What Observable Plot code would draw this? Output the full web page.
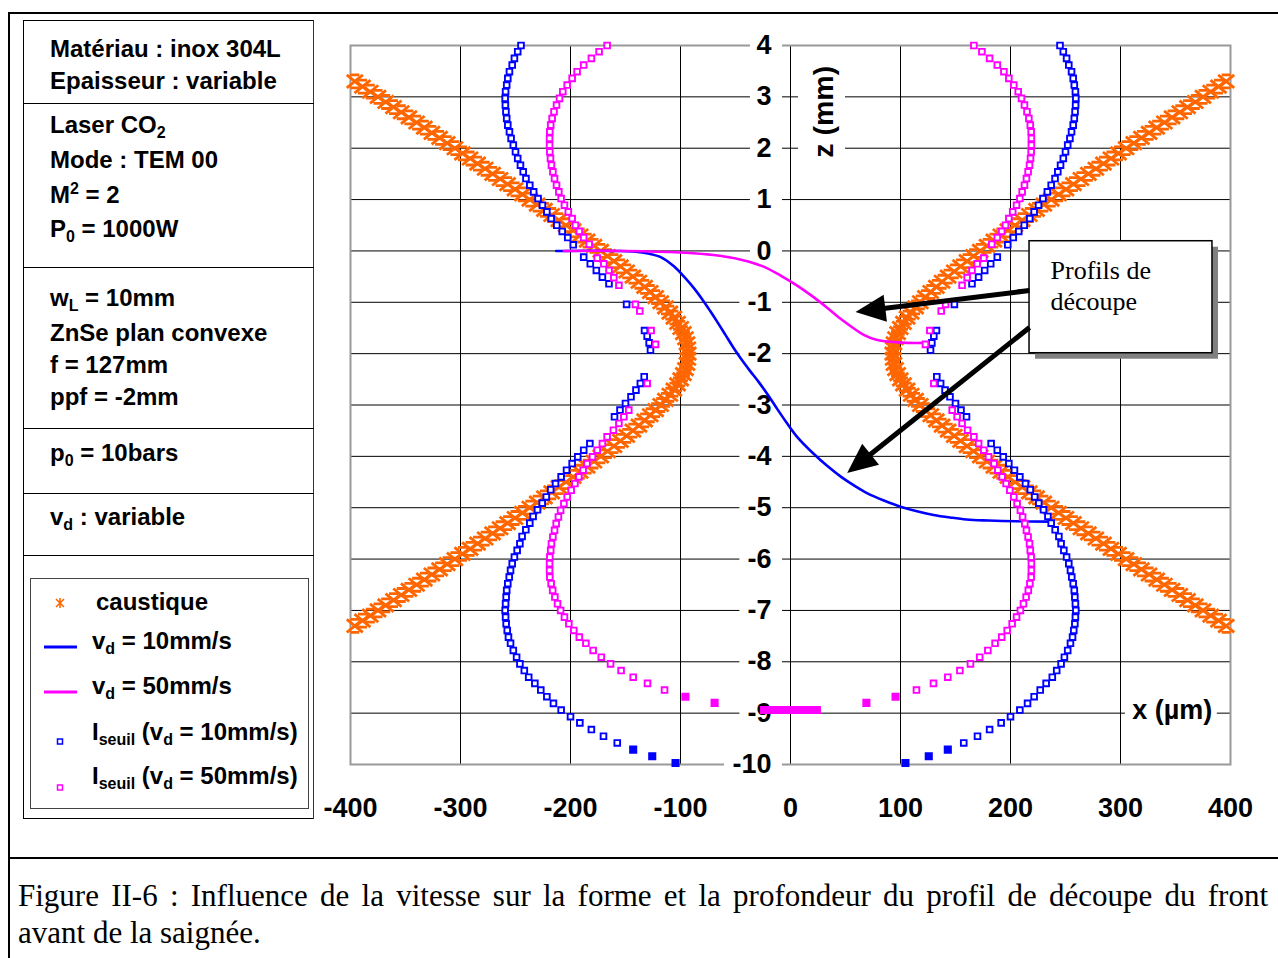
<!DOCTYPE html>
<html><head><meta charset="utf-8">
<script src="https://cdn.jsdelivr.net/npm/d3@7"></script>
<script src="https://cdn.jsdelivr.net/npm/@observablehq/plot@0.6"></script>
<style>
body{margin:0;background:#fff;}
#page{position:relative;width:1278px;height:958px;overflow:hidden;background:#fff;font-family:"Liberation Sans",Arial,sans-serif;}
#chart{position:absolute;left:0;top:0;}
.ln{position:absolute;background:#000;}
.txt{position:absolute;font-weight:bold;font-size:24px;line-height:28px;white-space:nowrap;color:#000;}
.txt sub,.txt sup{font-size:16px;line-height:0;}
.txt sub{vertical-align:-5px;}
.txt sup{vertical-align:9px;}
.cap{position:absolute;left:18px;font-family:"Liberation Serif","Times New Roman",serif;font-size:31px;line-height:37px;color:#000;white-space:nowrap;}
</style></head>
<body><div id="page"></div>
<script>
// ---------- data ----------
const xTicks = [-400,-300,-200,-100,0,100,200,300,400];
const zTicks = [4,3,2,1,0,-1,-2,-3,-4,-5,-6,-7,-8,-9,-10];

// caustic half-width (µm) vs z (mm)
const causticZ = [3.3,3.2,3.1,3.0,2.9,2.8,2.7,2.6,2.5,2.4,2.3,2.2,2.1,2.0,1.9,1.8,1.7,1.6,1.5,1.4,1.3,1.2,1.1,1.0,0.9,0.8,0.7,0.6,0.5,0.4,0.3,0.2,0.1,0.0,-0.1,-0.2,-0.3,-0.4,-0.5,-0.6,-0.7,-0.8,-0.9,-1.0,-1.1,-1.2,-1.3,-1.4,-1.5,-1.6,-1.7,-1.8,-1.9,-2.0,-2.1,-2.2,-2.3,-2.4,-2.5,-2.6,-2.7,-2.8,-2.9,-3.0,-3.1,-3.2,-3.3,-3.4,-3.5,-3.6,-3.7,-3.8,-3.9,-4.0,-4.1,-4.2,-4.3,-4.4,-4.5,-4.6,-4.7,-4.8,-4.9,-5.0,-5.1,-5.2,-5.3,-5.4,-5.5,-5.6,-5.7,-5.8,-5.9,-6.0,-6.1,-6.2,-6.3,-6.4,-6.5,-6.6,-6.7,-6.8,-6.9,-7.0,-7.1,-7.2,-7.3];
const causticW = [396.1,389.1,382.0,375.0,368.0,360.9,353.9,346.9,339.9,332.9,326.0,319.0,312.1,305.1,298.2,291.3,284.5,277.6,270.8,264.0,257.2,250.4,243.7,237.0,230.3,223.7,217.1,210.6,204.1,197.6,191.2,184.9,178.7,172.5,166.4,160.5,154.6,148.9,143.3,137.8,132.6,127.5,122.6,118.0,113.7,109.7,106.0,102.7,99.8,97.4,95.5,94.1,93.3,93.0,93.3,94.1,95.5,97.4,99.8,102.7,106.0,109.7,113.7,118.0,122.6,127.5,132.6,137.8,143.3,148.9,154.6,160.5,166.4,172.5,178.7,184.9,191.2,197.6,204.1,210.6,217.1,223.7,230.3,237.0,243.7,250.4,257.2,264.0,270.8,277.6,284.5,291.3,298.2,305.1,312.1,319.0,326.0,332.9,339.9,346.9,353.9,360.9,368.0,375.0,382.0,389.1,396.1];

// I_seuil, vd = 10 mm/s (left branch, mirrored to the right)
const seuil10Z = [4.00,3.88,3.75,3.62,3.49,3.36,3.23,3.10,2.97,2.84,2.71,2.58,2.45,2.32,2.19,2.06,1.93,1.80,1.67,1.54,1.41,1.28,1.15,1.02,0.89,0.76,0.63,0.50,0.38,0.26,0.12,-0.12,-0.25,-0.38,-0.51,-0.64,-1.04,-1.55,-1.66,-1.79,-1.93,-2.45,-2.58,-2.71,-2.84,-2.97,-3.10,-3.23,-3.75,-3.88,-4.01,-4.14,-4.27,-4.40,-4.53,-4.65,-4.79,-4.91,-5.04,-5.17,-5.30,-5.43,-5.56,-5.70,-5.83,-5.96,-6.09,-6.22,-6.35,-6.48,-6.61,-6.74,-6.87,-7.00,-7.13,-7.26,-7.39,-7.52,-7.64,-7.78,-7.91,-8.04,-8.17,-8.30,-8.42,-8.55,-8.68,-8.81,-8.94,-9.07,-9.19,-9.32,-9.45,-9.58,-9.71,-9.84,-9.97];
const seuil10X = [-245,-248,-251,-253,-255.5,-257,-258,-259,-259.4,-259.2,-258.7,-258,-257,-255.5,-254,-252,-250,-248,-245.5,-243,-240.5,-237,-233.5,-229.5,-225.5,-221.5,-217.5,-212.5,-207.5,-202.5,-197.5,-188,-182,-176.5,-171,-165,-149,-132.7,-130.3,-128.5,-127.3,-133,-136.5,-140.5,-145,-150,-155,-160,-182.4,-188,-193.4,-198.5,-203.6,-208.5,-213.6,-218,-222,-225.7,-230,-234,-237,-240.6,-244,-246,-248.5,-251,-253,-254.5,-255.7,-257,-258,-258.5,-259,-259.4,-259,-258.5,-257.5,-256.4,-254.5,-252,-249,-246,-242,-238,-232.4,-227,-221.5,-215.5,-208.5,-200,-191.5,-181,-170,-157.5,-143,-125.7,-104.5];

// I_seuil, vd = 50 mm/s
const seuil50Z = [4.00,3.88,3.75,3.62,3.49,3.36,3.23,3.10,2.97,2.84,2.71,2.58,2.45,2.32,2.19,2.06,1.93,1.80,1.67,1.54,1.41,1.28,1.15,1.02,0.89,0.76,0.63,0.50,0.38,0.26,0.13,-0.14,-0.25,-0.38,-0.52,-0.67,-1.04,-1.17,-1.55,-1.82,-2.58,-3.10,-3.23,-3.36,-3.49,-3.62,-3.75,-3.88,-4.01,-4.14,-4.27,-4.40,-4.53,-4.66,-4.79,-4.92,-5.05,-5.18,-5.31,-5.44,-5.57,-5.70,-5.83,-5.96,-6.09,-6.22,-6.35,-6.48,-6.61,-6.74,-6.87,-7.00,-7.13,-7.26,-7.39,-7.52,-7.64,-7.78,-7.91,-8.04,-8.17,-8.30,-8.42,-8.55,-8.68,-8.80,-8.94,-8.94,-8.94,-8.94,-8.94];
const seuil50X = [-166.7,-174,-181,-188,-194,-198.5,-203,-207,-210,-212.7,-215,-216.7,-218,-218.8,-219,-219,-218.8,-218.2,-217.3,-216,-214.5,-212.7,-210.6,-208.5,-205.5,-202,-198.5,-195.5,-192,-188,-183,-175.7,-169.7,-165,-160.6,-156,-141,-137,-126.7,-122.7,-130.3,-147,-151.5,-156,-161,-166.7,-171,-175.7,-180,-185,-188.5,-192.4,-196,-199.4,-203,-206,-209,-211,-213,-214.5,-216,-217.3,-218,-218.8,-219,-219,-218.8,-217.6,-216.2,-214.2,-211.8,-209,-205.5,-201.5,-197,-192,-186,-179.4,-172,-163.6,-154,-143,-130,-114.5,-95.5,-69,-24,-18,-12,-6,0];

// cutting-front profiles
const vd10X = [-213,-160,-135,-118,-106,-96,-88,-80,-73,-66,-59,-52,-45,-37,-29,-20,-12,-4,6,21,33,46,58,70,85,100,115,130,145,160,180,205,236];
const vd10Z = [0,0,-0.03,-0.12,-0.3,-0.52,-0.72,-0.95,-1.17,-1.4,-1.64,-1.88,-2.1,-2.33,-2.55,-2.82,-3.08,-3.33,-3.62,-3.95,-4.18,-4.40,-4.57,-4.72,-4.86,-4.98,-5.07,-5.14,-5.19,-5.23,-5.25,-5.265,-5.27];
const vd50X = [-206,-150,-100,-70,-45,-25,-9,5,21,33,45.5,57,67,78,91,106,127];
const vd50Z = [0,0,-0.03,-0.08,-0.17,-0.3,-0.48,-0.66,-0.9,-1.1,-1.32,-1.5,-1.64,-1.73,-1.77,-1.79,-1.79];

// annotation "Profils de découpe"
const calloutText = "Profils de\ndécoupe";
const calloutBox = {x1: 217.3, x2: 383.6, z1: -1.992, z2: 0.189};
const arrowFromX = [217.3, 217.3], arrowFromZ = [-0.77, -1.49];
const arrowTipX = [59.1, 51.5], arrowTipZ = [-1.188, -4.323];

// left info panel and legend
const infoLines = [
  ["Matériau : inox 304L", 49], ["Epaisseur : variable", 81],
  ["Laser CO<sub>2</sub>", 125], ["Mode : TEM 00", 160], ["M<sup>2</sup> = 2", 195], ["P<sub>0</sub> = 1000W", 229],
  ["w<sub>L</sub> = 10mm", 298], ["ZnSe plan convexe", 333], ["f = 127mm", 365], ["ppf = -2mm", 397],
  ["p<sub>0</sub> = 10bars", 453], ["v<sub>d</sub> : variable", 517]
];
const legendItems = [
  ["caustique", 602, 96], ["v<sub>d</sub> = 10mm/s", 641, 92], ["v<sub>d</sub> = 50mm/s", 686, 92],
  ["I<sub>seuil</sub> (v<sub>d</sub> = 10mm/s)", 732, 92], ["I<sub>seuil</sub> (v<sub>d</sub> = 50mm/s)", 776, 92]
];
const captionLines = ["Figure II-6 : Influence de la vitesse sur la forme et la profondeur du profil de découpe du front", "avant de la saignée."];

// ---------- tables ----------
const caustic = causticZ.flatMap((z, i) => [{x: -causticW[i], z}, {x: causticW[i], z}]);
const seuil10 = seuil10Z.flatMap((z, i) => [{x: seuil10X[i], z}, {x: -seuil10X[i], z}]);
const seuil50 = seuil50Z.flatMap((z, i) => [{x: seuil50X[i], z}, {x: -seuil50X[i], z}]);
const vd10 = vd10X.map((x, i) => ({x, z: vd10Z[i]}));
const vd50 = vd50X.map((x, i) => ({x, z: vd50Z[i]}));
const arrows = arrowFromX.map((x, i) => ({x1: x, z1: arrowFromZ[i], x2: arrowTipX[i], z2: arrowTipZ[i]}));

const ORANGE = "#FF6600", BLUE = "#0000FF", MAGENTA = "#FF00FF";
const W = 1278, H = 958, ML = 350, MR = 48, MT = 45, MB = 194;
const sx = d3.scaleLinear([-400, 400], [ML, W - MR]);
const sz = d3.scaleLinear([-10, 4], [H - MB, MT]);

// Excel-like star marker: X with short top/bottom bars
const starSym = {draw(c) { const hw = 8, hh = 6.5, b = 4.5;
  c.moveTo(-hw, -hh); c.lineTo(hw, hh); c.moveTo(-hw, hh); c.lineTo(hw, -hh);
  c.moveTo(-b, -hh); c.lineTo(b, -hh); c.moveTo(-b, hh); c.lineTo(b, hh); }};
function headSym(a) {
  const dx = sx(a.x2) - sx(a.x1), dy = sz(a.z2) - sz(a.z1), n = Math.hypot(dx, dy), ux = dx / n, uy = dy / n, px = -uy, py = ux, L = 30, Wd = 27;
  return {draw(c) { const bx = -L * ux, by = -L * uy; c.moveTo(0, 0); c.lineTo(bx + px * Wd / 2, by + py * Wd / 2); c.lineTo(bx - px * Wd / 2, by - py * Wd / 2); c.closePath(); }};
}
function lineEnd(a) {
  const X1 = sx(a.x1), Y1 = sz(a.z1), X2 = sx(a.x2), Y2 = sz(a.z2), n = Math.hypot(X2 - X1, Y2 - Y1);
  const t = (n - 24) / n;
  return {x: sx.invert(X1 + (X2 - X1) * t), z: sz.invert(Y1 + (Y2 - Y1) * t)};
}
const labelLeft = d => { const s = String(d); return s.length === 1 ? -36.4 : s.length === 2 ? -46 : -60; };

const bold = {fontWeight: "bold", fontSize: 27, fill: "#000"};
const seuil10Bottom = seuil10.filter(d => d.z < -9.65), seuil10Rest = seuil10.filter(d => d.z >= -9.65);
const seuil50Bottom = seuil50.filter(d => d.z < -8.6), seuil50Rest = seuil50.filter(d => d.z >= -8.6);

const chart = Plot.plot({
  width: W, height: H, marginLeft: ML, marginRight: MR, marginTop: MT, marginBottom: MB,
  x: {domain: [-400, 400], axis: null},
  y: {domain: [-10, 4], axis: null},
  style: {background: "transparent", fontFamily: "'Liberation Sans', Arial, sans-serif", overflow: "visible"},
  marks: [
    Plot.ruleX(xTicks, {x: d => d, stroke: "#000", strokeWidth: 1}),
    Plot.ruleY(zTicks, {y: d => d, stroke: "#000", strokeWidth: 1}),
    Plot.frame({stroke: "#999", strokeWidth: 2}),
    // label backgrounds
    Plot.rect(zTicks, {x1: labelLeft, x2: () => -7.3, y1: d => d - 0.19, y2: d => d + 0.19, fill: "white"}),
    Plot.rect([0], {x1: () => 7.3, x2: () => 50, y1: () => 1.75, y2: () => 3.7, fill: "white"}),
    Plot.rect([0], {x1: () => 304.5, x2: () => 388, y1: () => -9.2, y2: () => -8.7, fill: "white"}),
    // y tick labels along x = 0
    Plot.text(zTicks, {x: () => 0, y: d => d, dx: -19, text: d => String(d), textAnchor: "end", lineAnchor: "middle", ...bold}),
    // x tick labels
    Plot.text(xTicks, {x: d => d, y: () => -10, dy: 44, text: d => String(d), textAnchor: "middle", lineAnchor: "middle", ...bold}),
    Plot.text(["z (mm)"], {x: () => 30.5, y: () => 2.71, text: d => d, rotate: -90, textAnchor: "middle", lineAnchor: "middle", ...bold, fontSize: 28.5}),
    Plot.text(["x (µm)"], {x: () => 347, y: () => -8.95, text: d => d, textAnchor: "middle", lineAnchor: "middle", ...bold}),
    // caustic
    Plot.dot(caustic, {x: "x", y: "z", symbol: starSym, r: 6, fill: "none", stroke: ORANGE, strokeWidth: 2.8}),
    // cutting profiles
    Plot.line(vd10, {x: "x", y: "z", stroke: BLUE, strokeWidth: 2.6, curve: "catmull-rom"}),
    Plot.line(vd50, {x: "x", y: "z", stroke: MAGENTA, strokeWidth: 2.6, curve: "catmull-rom"}),
    // threshold-intensity points
    Plot.dot(seuil10Rest, {x: "x", y: "z", symbol: "square", r: 3.2, fill: "white", stroke: BLUE, strokeWidth: 1.9}),
    Plot.dot(seuil10Bottom, {x: "x", y: "z", symbol: "square", r: 3.5, fill: BLUE, stroke: BLUE, strokeWidth: 1.9}),
    Plot.dot(seuil50Rest, {x: "x", y: "z", symbol: "square", r: 3.2, fill: "white", stroke: MAGENTA, strokeWidth: 1.9}),
    Plot.dot(seuil50Bottom, {x: "x", y: "z", symbol: "square", r: 3.5, fill: MAGENTA, stroke: MAGENTA, strokeWidth: 1.9}),
    // callout
    Plot.rect([calloutBox], {x1: "x1", x2: "x2", y1: "z1", y2: "z2", fill: "#808080", dx: 6, dy: 6}),
    Plot.rect([calloutBox], {x1: "x1", x2: "x2", y1: "z1", y2: "z2", fill: "white", stroke: "#000", strokeWidth: 1.5}),
    Plot.text([calloutText], {x: () => 236.4, y: () => -0.117, text: d => d, textAnchor: "start", lineAnchor: "top", lineHeight: 1.2, fontSize: 26, fontFamily: "'Liberation Serif', 'Times New Roman', serif", fill: "#000"}),
    Plot.link(arrows, {x1: "x1", y1: "z1", x2: d => lineEnd(d).x, y2: d => lineEnd(d).z, stroke: "#000", strokeWidth: 5}),
    ...arrows.map(a => Plot.dot([a], {x: "x2", y: "z2", symbol: headSym(a), r: 10, fill: "#000", stroke: "none"}))
  ]
});
chart.id = "chart";
const page = document.getElementById("page");
page.appendChild(chart);

function addLine(l, t, w, h, color) {
  const d = document.createElement("div"); d.className = "ln";
  Object.assign(d.style, {left: l + "px", top: t + "px", width: w + "px", height: h + "px", background: color || "#000"});
  page.appendChild(d);
}
function addText(html, left, cy) {
  const d = document.createElement("div"); d.className = "txt"; d.innerHTML = html;
  d.style.left = left + "px"; d.style.top = (cy - 14) + "px"; page.appendChild(d);
}
// outer document frame
addLine(8, 12, 1270, 2);
addLine(8, 12, 1.5, 946);
addLine(8, 857, 1270, 2);
// info panel box
addLine(23, 20, 291, 1.2); addLine(23, 818, 291, 1.2);
addLine(23, 20, 1.2, 799); addLine(312.5, 20, 1.6, 799, "#333");
[103, 267, 428, 493, 555].forEach(y => addLine(23, y, 291, 1.2));
infoLines.forEach(([t, y]) => addText(t, 50, y));
// legend box
addLine(30, 578, 279, 1, "#444"); addLine(30, 808, 279, 1, "#444");
addLine(30, 578, 1, 231, "#444"); addLine(308, 578, 1, 231, "#444");
legendItems.forEach(([t, y, x]) => addText(t, x, y));
const lg = document.createElementNS("http://www.w3.org/2000/svg", "svg");
lg.setAttribute("width", 1278); lg.setAttribute("height", 958);
lg.style.position = "absolute"; lg.style.left = "0"; lg.style.top = "0"; lg.style.pointerEvents = "none";
lg.innerHTML = `
<path d="M56,599 L64,607 M56,607 L64,599 M60,598 L60,608" stroke="${ORANGE}" stroke-width="1.6" fill="none"/>
<line x1="44" y1="647" x2="77" y2="647" stroke="${BLUE}" stroke-width="3"/>
<line x1="44" y1="692" x2="77" y2="692" stroke="${MAGENTA}" stroke-width="3"/>
<rect x="57.5" y="739" width="5" height="5" fill="white" stroke="${BLUE}" stroke-width="1.5"/>
<rect x="57.5" y="785" width="5" height="5" fill="white" stroke="${MAGENTA}" stroke-width="1.5"/>`;
page.appendChild(lg);
// caption
const c1 = document.createElement("div"); c1.className = "cap"; c1.textContent = captionLines[0];
Object.assign(c1.style, {top: "877px", width: "1250px", textAlign: "justify", textAlignLast: "justify", whiteSpace: "nowrap"});
page.appendChild(c1);
const c2 = document.createElement("div"); c2.className = "cap"; c2.textContent = captionLines[1];
c2.style.top = "914px"; page.appendChild(c2);
</script>
</body></html>
